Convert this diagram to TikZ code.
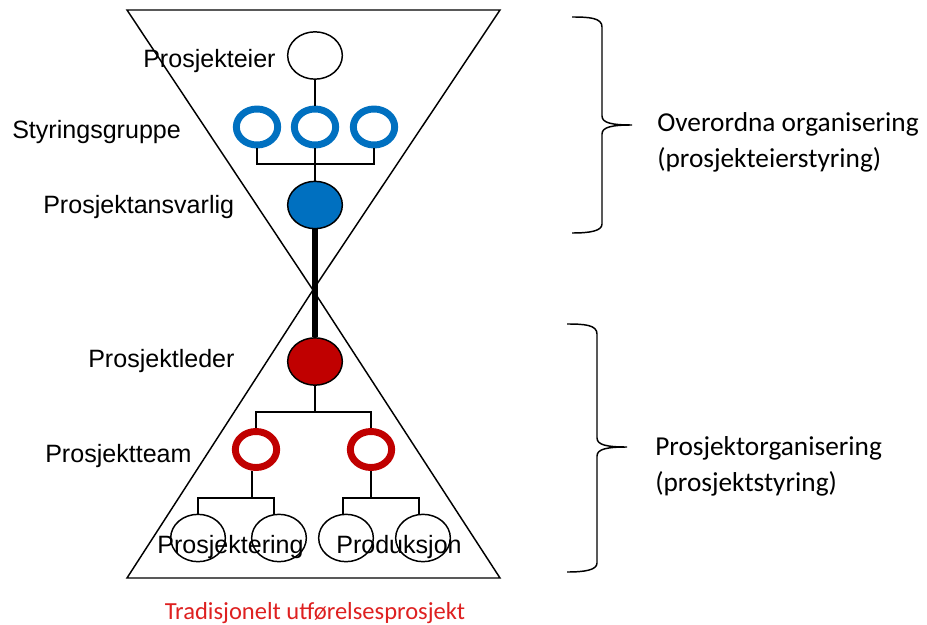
\documentclass[tikz,border=0pt]{standalone}
\usepackage{fontspec}
\setmainfont{Liberation Sans}
\newfontfamily\calibrilike{Carlito}
\usetikzlibrary{shapes.geometric}
\definecolor{roleblue}{HTML}{0070C0}
\definecolor{rolered}{HTML}{C00000}
\definecolor{captionred}{RGB}{222,32,32}
\begin{document}
\begin{tikzpicture}[x=0.75pt,y=-0.75pt,
  outline/.style={draw=black,line width=1.1pt},
  person/.style={ellipse,draw=black,line width=1.1pt,inner sep=0pt,
    minimum width=41pt,minimum height=35.5pt},
  owner/.style={person,fill=white},
  member/.style={person},
  leadblue/.style={person,fill=roleblue},
  leadred/.style={person,fill=rolered},
  ring/.style={ellipse,inner sep=0pt,line width=5.2pt,fill=white,
    minimum width=31pt,minimum height=27pt},
  ringblue/.style={ring,draw=roleblue},
  ringred/.style={ring,draw=rolered},
  link/.style={draw=black,line width=1.1pt},
  spine/.style={draw=black,line width=5pt},
  rolelabel/.style={anchor=base west,inner sep=0pt,
    font=\fontsize{18.8}{22}\selectfont},
  unitlabel/.style={anchor=base,inner sep=0pt,
    font=\fontsize{18.8}{22}\selectfont},
  sidelabel/.style={anchor=base west,inner sep=0pt,
    font=\calibrilike\fontsize{20.5}{26}\selectfont},
  brace/.style={draw=black,line width=1.1pt}
]
\useasboundingbox (0,0) rectangle (927,624);

% hourglass: governance level above, project level below
\draw[outline,line join=miter] (127,10) -- (500,10) -- (313,290) -- cycle;
\draw[outline,line join=miter] (313,290) -- (500,578) -- (127,578) -- cycle;

% owner and steering group
\node[owner] (pe) at (315,55.5) {};
\node[ringblue] (s1) at (257,127) {};
\node[ringblue] (s2) at (315,127) {};
\node[ringblue] (s3) at (374,127) {};
\node[leadblue] (pa) at (315,205) {};

% project management and teams
\node[leadred] (pl) at (315,361.5) {};
\node[ringred] (t1) at (256,449.5) {};
\node[ringred] (t2) at (371,449.5) {};
\node[member] (m1) at (198,538) {};
\node[member] (m2) at (279,538) {};
\node[member] (m3) at (346,538) {};
\node[member] (m4) at (423,538) {};

% junction points of the tree lines
\coordinate (j1) at (315,164);
\coordinate (j2) at (315,412);
\coordinate (j3) at (252,498);
\coordinate (j4) at (371,498);

\draw[link] (pe.south) -- (s2.north);
\draw[link] (s1.south) |- (j1) -| (s3.south);
\draw[link] (s2.south) -- (pa.north);
\draw[spine] (pa.south) -- (pl.north);
\draw[link] (pl.south) -- (j2);
\draw[link] (t1.north) |- (j2) -| (t2.north);
\draw[link] (t1.south -| j3) -- (j3);
\draw[link] (m1.north) |- (j3) -| (m2.north -| 274,0);
\draw[link] (t2.south) -- (j4);
\draw[link] (m3.north -| 343,0) |- (j4) -| (m4.north -| 419,0);

% role names
\node[rolelabel] (lpe) at (143,68) {Prosjekteier};
\node[rolelabel] (lsg) at (12,138) {Styringsgruppe};
\node[rolelabel] (lpa) at (43,213) {Prosjektansvarlig};
\node[rolelabel] (lpl) at (88,367) {Prosjektleder};
\node[rolelabel] (lpt) at (45,462) {Prosjektteam};
\node[unitlabel] (lpr) at (230.5,553) {Prosjektering};
\node[unitlabel] (lpd) at (399,553) {Produksjon};

% braces with the two levels of organisation
\draw[brace] (572,17) .. controls (590,17) and (602,18) .. (602,27)
  -- (602,116) .. controls (602,123) and (612,125) .. (632,125)
  .. controls (612,125) and (602,127) .. (602,134)
  -- (602,224) .. controls (602,231) and (590,233) .. (572,233);
\draw[brace] (567,324) .. controls (585,324) and (597,325) .. (597,334)
  -- (597,438) .. controls (597,445) and (607,447) .. (627,447)
  .. controls (607,447) and (597,449) .. (597,456)
  -- (597,563) .. controls (597,570) and (585,572) .. (567,572);

\node[sidelabel] (ov1) at (657,132) {Overordna organisering};
\node[sidelabel] (ov2) at (657,167) {(prosjekteierstyring)};
\node[sidelabel] (po1) at (655,455) {Prosjektorganisering};
\node[sidelabel] (po2) at (655,491) {(prosjektstyring)};

% caption
\node[anchor=base,inner sep=0pt,text=captionred,
  font=\calibrilike\fontsize{18.4}{22}\selectfont] (cap) at (315,619)
  {Tradisjonelt utførelsesprosjekt};
\end{tikzpicture}
\end{document}
